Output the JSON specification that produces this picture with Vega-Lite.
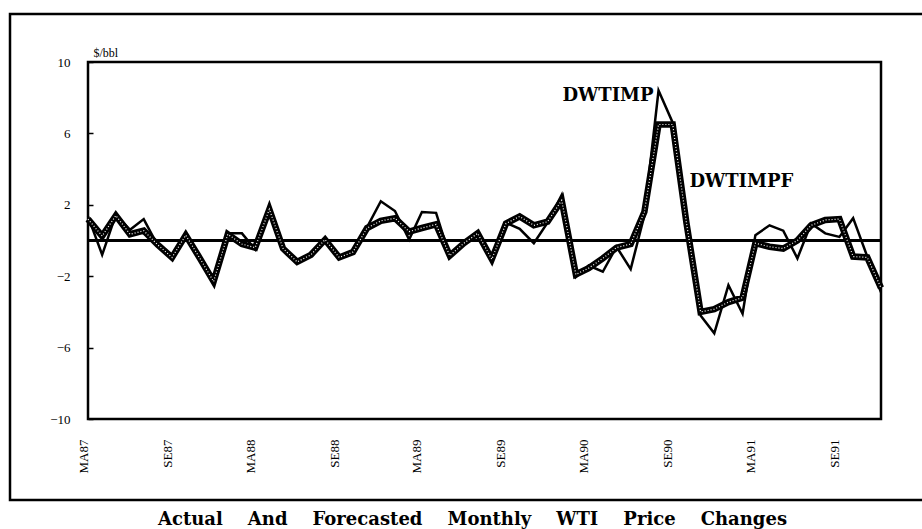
{
  "$schema": "https://vega.github.io/schema/vega-lite/v6.json",
  "width": 793,
  "height": 357,
  "autosize": {"type": "none"},
  "padding": {"left": 88, "top": 62, "right": 41, "bottom": 110},
  "background": "white",
  "title": {
    "text": "Actual\u00a0\u00a0\u00a0\u00a0And\u00a0\u00a0\u00a0\u00a0Forecasted\u00a0\u00a0\u00a0\u00a0Monthly\u00a0\u00a0\u00a0\u00a0WTI\u00a0\u00a0\u00a0\u00a0Price\u00a0\u00a0\u00a0\u00a0Changes",
    "orient": "bottom",
    "anchor": "middle",
    "font": "DejaVu Serif",
    "fontSize": 18,
    "fontWeight": "bold",
    "color": "black",
    "offset": 10,
    "dx": -12
  },
  "config": {
    "view": {"stroke": "black", "strokeWidth": 2.5},
    "axis": {"grid": false, "domain": false}
  },
  "datasets": {
    "wti": [
      {"month": "1987-03-01", "DWTIMP": 1.35, "DWTIMPF": 1.2},
      {"month": "1987-04-01", "DWTIMP": -0.8, "DWTIMPF": 0.25},
      {"month": "1987-05-01", "DWTIMP": 1.45, "DWTIMPF": 1.4},
      {"month": "1987-06-01", "DWTIMP": 0.6, "DWTIMPF": 0.35},
      {"month": "1987-07-01", "DWTIMP": 1.2, "DWTIMPF": 0.55},
      {"month": "1987-08-01", "DWTIMP": -0.3, "DWTIMPF": -0.25},
      {"month": "1987-09-01", "DWTIMP": -0.95, "DWTIMPF": -0.95},
      {"month": "1987-10-01", "DWTIMP": 0.35, "DWTIMPF": 0.3},
      {"month": "1987-11-01", "DWTIMP": -1.05, "DWTIMPF": -1.0},
      {"month": "1987-12-01", "DWTIMP": -2.4, "DWTIMPF": -2.3},
      {"month": "1988-01-01", "DWTIMP": 0.4, "DWTIMPF": 0.35},
      {"month": "1988-02-01", "DWTIMP": 0.4, "DWTIMPF": -0.2},
      {"month": "1988-03-01", "DWTIMP": -0.5, "DWTIMPF": -0.4},
      {"month": "1988-04-01", "DWTIMP": 1.95, "DWTIMPF": 1.75},
      {"month": "1988-05-01", "DWTIMP": -0.5, "DWTIMPF": -0.45},
      {"month": "1988-06-01", "DWTIMP": -1.25, "DWTIMPF": -1.2},
      {"month": "1988-07-01", "DWTIMP": -0.8, "DWTIMPF": -0.8},
      {"month": "1988-08-01", "DWTIMP": 0.1, "DWTIMPF": 0.05},
      {"month": "1988-09-01", "DWTIMP": -0.95, "DWTIMPF": -0.95},
      {"month": "1988-10-01", "DWTIMP": -0.7, "DWTIMPF": -0.65},
      {"month": "1988-11-01", "DWTIMP": 0.75, "DWTIMPF": 0.7},
      {"month": "1988-12-01", "DWTIMP": 2.2, "DWTIMPF": 1.1},
      {"month": "1989-01-01", "DWTIMP": 1.65, "DWTIMPF": 1.25},
      {"month": "1989-02-01", "DWTIMP": 0.05, "DWTIMPF": 0.5},
      {"month": "1989-03-01", "DWTIMP": 1.6, "DWTIMPF": 0.7},
      {"month": "1989-04-01", "DWTIMP": 1.55, "DWTIMPF": 0.9},
      {"month": "1989-05-01", "DWTIMP": -0.9, "DWTIMPF": -0.85},
      {"month": "1989-06-01", "DWTIMP": -0.1, "DWTIMPF": -0.15},
      {"month": "1989-07-01", "DWTIMP": 0.5, "DWTIMPF": 0.4},
      {"month": "1989-08-01", "DWTIMP": -1.1, "DWTIMPF": -1.05},
      {"month": "1989-09-01", "DWTIMP": 1.0, "DWTIMPF": 0.95},
      {"month": "1989-10-01", "DWTIMP": 0.65, "DWTIMPF": 1.35},
      {"month": "1989-11-01", "DWTIMP": -0.15, "DWTIMPF": 0.85},
      {"month": "1989-12-01", "DWTIMP": 1.0, "DWTIMPF": 1.05},
      {"month": "1990-01-01", "DWTIMP": 2.55, "DWTIMPF": 2.25},
      {"month": "1990-02-01", "DWTIMP": -2.05, "DWTIMPF": -1.9},
      {"month": "1990-03-01", "DWTIMP": -1.4, "DWTIMPF": -1.55},
      {"month": "1990-04-01", "DWTIMP": -1.75, "DWTIMPF": -1.0},
      {"month": "1990-05-01", "DWTIMP": -0.35, "DWTIMPF": -0.4},
      {"month": "1990-06-01", "DWTIMP": -1.6, "DWTIMPF": -0.2},
      {"month": "1990-07-01", "DWTIMP": 1.4, "DWTIMPF": 1.6},
      {"month": "1990-08-01", "DWTIMP": 8.4, "DWTIMPF": 6.5},
      {"month": "1990-09-01", "DWTIMP": 6.6, "DWTIMPF": 6.5},
      {"month": "1990-10-01", "DWTIMP": 1.2, "DWTIMPF": 1.0},
      {"month": "1990-11-01", "DWTIMP": -4.2, "DWTIMPF": -4.0},
      {"month": "1990-12-01", "DWTIMP": -5.2, "DWTIMPF": -3.85},
      {"month": "1991-01-01", "DWTIMP": -2.5, "DWTIMPF": -3.45},
      {"month": "1991-02-01", "DWTIMP": -4.1, "DWTIMPF": -3.2},
      {"month": "1991-03-01", "DWTIMP": 0.3, "DWTIMPF": -0.15},
      {"month": "1991-04-01", "DWTIMP": 0.85, "DWTIMPF": -0.35},
      {"month": "1991-05-01", "DWTIMP": 0.55, "DWTIMPF": -0.45},
      {"month": "1991-06-01", "DWTIMP": -1.0, "DWTIMPF": 0.0},
      {"month": "1991-07-01", "DWTIMP": 0.95, "DWTIMPF": 0.85},
      {"month": "1991-08-01", "DWTIMP": 0.4, "DWTIMPF": 1.15},
      {"month": "1991-09-01", "DWTIMP": 0.2, "DWTIMPF": 1.2},
      {"month": "1991-10-01", "DWTIMP": 1.25, "DWTIMPF": -0.9},
      {"month": "1991-11-01", "DWTIMP": -0.9, "DWTIMPF": -0.95},
      {"month": "1991-12-01", "DWTIMP": -2.9, "DWTIMPF": -2.65}
    ],
    "labels": [
      {"month": "1990-08-01", "value": 8.1, "label": "DWTIMP"},
      {"month": "1990-10-01", "value": 3.3, "label": "DWTIMPF"}
    ]
  },
  "layer": [
    {
      "data": {"values": [{}]},
      "mark": {"type": "rect", "filled": false, "stroke": "black", "strokeWidth": 2.5, "clip": false},
      "encoding": {
        "x": {"value": -78},
        "x2": {"value": 837},
        "y": {"value": -48},
        "y2": {"value": 438}
      }
    },
    {
      "data": {"name": "wti"},
      "mark": {"type": "rule", "color": "black", "strokeWidth": 2},
      "encoding": {"y": {"datum": 0}}
    },
    {
      "data": {"name": "wti"},
      "mark": {"type": "line", "color": "black", "strokeWidth": 2.5, "strokeJoin": "miter"},
      "encoding": {
        "x": {
          "field": "month",
          "type": "temporal",
          "scale": {
            "type": "utc",
            "domain": [
              {"year": 1987, "month": 3, "date": 1, "utc": true},
              {"year": 1991, "month": 12, "date": 1, "utc": true}
            ],
            "nice": false
          },
          "axis": {
            "title": null,
            "ticks": false,
            "labelAngle": 270,
            "labelPadding": 20,
            "labelOffset": -5,
            "labelFont": "Liberation Serif",
            "labelFontSize": 13,
            "labelColor": "black",
            "labelExpr": "upper(slice(utcFormat(datum.value, '%b'), 0, 2)) + utcFormat(datum.value, '%y')",
            "values": [
              {"year": 1987, "month": 3, "date": 1, "utc": true},
              {"year": 1987, "month": 9, "date": 1, "utc": true},
              {"year": 1988, "month": 3, "date": 1, "utc": true},
              {"year": 1988, "month": 9, "date": 1, "utc": true},
              {"year": 1989, "month": 3, "date": 1, "utc": true},
              {"year": 1989, "month": 9, "date": 1, "utc": true},
              {"year": 1990, "month": 3, "date": 1, "utc": true},
              {"year": 1990, "month": 9, "date": 1, "utc": true},
              {"year": 1991, "month": 3, "date": 1, "utc": true},
              {"year": 1991, "month": 9, "date": 1, "utc": true}
            ]
          }
        },
        "y": {
          "field": "DWTIMP",
          "type": "quantitative",
          "scale": {"domain": [-10, 10], "nice": false, "zero": false},
          "axis": {
            "title": "$/bbl",
            "titleAngle": 0,
            "titleAlign": "left",
            "titleBaseline": "alphabetic",
            "titleX": 5,
            "titleY": -6,
            "titleFont": "Liberation Serif",
            "titleFontSize": 12,
            "titleFontWeight": "normal",
            "titleColor": "black",
            "values": [10, 6, 2, -2, -6, -10],
            "ticks": true,
            "tickSize": -5,
            "tickColor": "black",
            "tickWidth": 1.5,
            "labelPadding": 23,
            "labelFont": "Liberation Serif",
            "labelFontSize": 13,
            "labelColor": "black"
          }
        }
      }
    },
    {
      "data": {"name": "wti"},
      "mark": {"type": "line", "color": "black", "strokeWidth": 6.5, "strokeJoin": "miter"},
      "encoding": {
        "x": {"field": "month", "type": "temporal"},
        "y": {"field": "DWTIMPF", "type": "quantitative"}
      }
    },
    {
      "data": {"name": "wti"},
      "mark": {"type": "line", "color": "white", "strokeWidth": 1.2, "strokeDash": [1, 2]},
      "encoding": {
        "x": {"field": "month", "type": "temporal"},
        "y": {"field": "DWTIMPF", "type": "quantitative"}
      }
    },
    {
      "data": {"name": "labels"},
      "transform": [{"filter": "datum.label == 'DWTIMP'"}],
      "mark": {"type": "text", "align": "right", "baseline": "middle", "dx": -5, "font": "DejaVu Serif", "fontSize": 18, "fontWeight": "bold", "color": "black"},
      "encoding": {
        "x": {"field": "month", "type": "temporal"},
        "y": {"field": "value", "type": "quantitative"},
        "text": {"field": "label"}
      }
    },
    {
      "data": {"name": "labels"},
      "transform": [{"filter": "datum.label == 'DWTIMPF'"}],
      "mark": {"type": "text", "align": "left", "baseline": "middle", "dx": 3, "font": "DejaVu Serif", "fontSize": 18, "fontWeight": "bold", "color": "black"},
      "encoding": {
        "x": {"field": "month", "type": "temporal"},
        "y": {"field": "value", "type": "quantitative"},
        "text": {"field": "label"}
      }
    }
  ]
}
